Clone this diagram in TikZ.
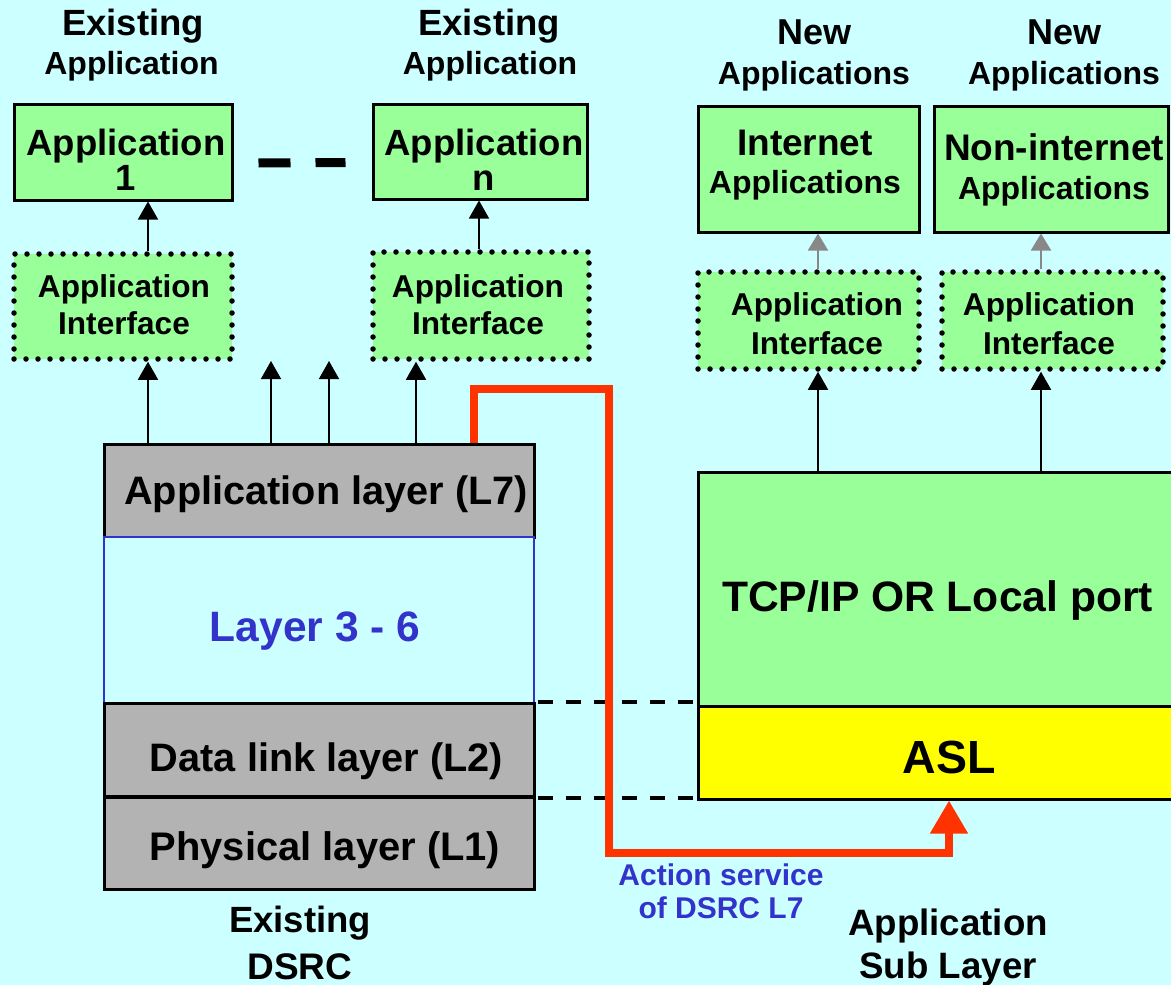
\documentclass[tikz,border=0pt]{standalone}
\usepackage{fontspec}
\setmainfont{Liberation Sans}
\usetikzlibrary{arrows.meta}
\definecolor{bgcyan}{HTML}{CCFFFF}
\definecolor{appgreen}{HTML}{99FF99}
\definecolor{layergray}{HTML}{B3B3B3}
\definecolor{aslyellow}{HTML}{FFFF00}
\definecolor{flowred}{HTML}{FF3300}
\definecolor{textblue}{HTML}{3333CC}
\definecolor{arrowgray}{HTML}{888888}
\newcommand\fsz[1]{\fontsize{#1}{#1}\selectfont\bfseries}
\begin{document}
\begin{tikzpicture}[x=1pt,y=-1pt,
  appbox/.style={draw, line width=3pt, fill=appgreen, inner sep=0pt},
  ifbox/.style={draw, line width=5.5pt, line cap=round, dash pattern=on 0pt off 12pt,
                fill=appgreen, inner sep=0pt},
  layerbox/.style={draw, line width=3pt, fill=layergray, inner sep=0pt},
  txt/.style={anchor=base, inner sep=0pt},
  uparrow/.style={line width=1.6pt, -{Triangle[length=18pt,width=20pt]}},
  greyarrow/.style={draw=arrowgray, line width=2pt, -{Triangle[length=17pt,width=20pt]}},
  dashline/.style={line width=4pt, dash pattern=on 15pt off 13pt, dash phase=-2pt},
  redpath/.style={draw=flowred, line width=7.5pt, line join=miter,
                  -{Triangle[length=33pt,width=36pt]}}]

\fill[bgcyan] (0,0) rectangle (1171,985);
\useasboundingbox (0,0) rectangle (1171,985);
\clip (0,0) rectangle (1171,985);

% ---- existing applications (left) ----
\node[txt, font=\fsz{36.5}] (ex1a) at (133,35) {Existing};
\node[txt, font=\fsz{32}]   (ex1b) at (131.5,74) {Application};
\node[txt, font=\fsz{36.5}] (ex2a) at (489,35) {Existing};
\node[txt, font=\fsz{32}]   (ex2b) at (490,74) {Application};

\node[appbox, minimum width=218pt, minimum height=96pt] (app1) at (123,152) {};
\node[txt, font=\fsz{36.5}] (app1a) at (126,155) {Application};
\node[txt, font=\fsz{36.5}] (app1b) at (126,190) {1};

\node[appbox, minimum width=214pt, minimum height=95pt] (appn) at (480,151.5) {};
\node[txt, font=\fsz{36.5}] (appna) at (484,155) {Application};
\node[txt, font=\fsz{36.5}] (appnb) at (484,190) {n};

\draw[line width=9pt, dash pattern=on 32pt off 25pt]
  ([xshift=25pt,yshift=-11pt]app1.east) -- ([xshift=-26pt,yshift=-11pt]appn.west);

\node[ifbox, minimum width=218pt, minimum height=105pt] (ai1) at (123,306.5) {};
\node[txt, font=\fsz{31.6}] (ai1a) at (124,297) {Application};
\node[txt, font=\fsz{31.6}] (ai1b) at (124,334) {Interface};

\node[ifbox, minimum width=216pt, minimum height=107pt] (ain) at (481,305.5) {};
\node[txt, font=\fsz{31.6}] (aina) at (478,297) {Application};
\node[txt, font=\fsz{31.6}] (ainb) at (478,334) {Interface};

% ---- new applications (right) ----
\node[txt, font=\fsz{36}] (new1a) at (814.5,45) {New};
\node[txt, font=\fsz{32}] (new1b) at (814,84) {Applications};
\node[txt, font=\fsz{36}] (new2a) at (1064.5,45) {New};
\node[txt, font=\fsz{32}] (new2b) at (1064,84) {Applications};

\node[appbox, minimum width=221pt, minimum height=126pt] (inet) at (808.5,169) {};
\node[txt, font=\fsz{37}] (ineta) at (805,155) {Internet};
\node[txt, font=\fsz{32}] (inetb) at (805,193) {Applications};

\node[appbox, minimum width=234pt, minimum height=126pt] (ninet) at (1051,169) {};
\node[txt, font=\fsz{37}] (nineta) at (1054,160) {Non-internet};
\node[txt, font=\fsz{32}] (ninetb) at (1054,199) {Applications};

\node[ifbox, minimum width=221pt, minimum height=97pt] (ai3) at (808.5,320.5) {};
\node[txt, font=\fsz{31.6}] (ai3a) at (817,315) {Application};
\node[txt, font=\fsz{31.6}] (ai3b) at (817,354) {Interface};

\node[ifbox, minimum width=221pt, minimum height=97pt] (ai4) at (1052.5,320.5) {};
\node[txt, font=\fsz{31.6}] (ai4a) at (1049,315) {Application};
\node[txt, font=\fsz{31.6}] (ai4b) at (1049,354) {Interface};

% ---- DSRC stack ----
\node[layerbox, minimum width=430pt, minimum height=93pt] (l7) at (319,490.5) {};
\node[txt, font=\fsz{39.7}] (l7t) at (326,504) {Application layer (L7)};

\node[draw=textblue, line width=1.5pt, fill=bgcyan, inner sep=0pt,
      minimum width=430pt, minimum height=166pt] (l36) at (319,620) {};
\node[txt, font=\fsz{42.5}, text=textblue] (l36t) at (315,641) {Layer 3 - 6};

\node[layerbox, minimum width=430pt, minimum height=93pt] (l2) at (319,750) {};
\node[txt, font=\fsz{39.7}] (l2t) at (326.5,771) {Data link layer (L2)};

\node[layerbox, minimum width=430pt, minimum height=92pt] (l1) at (319,843) {};
\node[txt, font=\fsz{39.9}] (l1t) at (325,860) {Physical layer (L1)};

\node[txt, font=\fsz{36.5}] (dsrca) at (300,932) {Existing};
\node[txt, font=\fsz{37}]   (dsrcb) at (300,979) {DSRC};

% ---- TCP/IP and ASL ----
\node[appbox, minimum width=492pt, minimum height=234pt] (tcp) at (944,589) {};
\node[txt, font=\fsz{42.6}] (tcpt) at (937.5,611) {TCP/IP OR Local port};

\node[draw, line width=3pt, fill=aslyellow, inner sep=0pt,
      minimum width=492pt, minimum height=93pt] (asl) at (944,752.5) {};
\node[txt, font=\fsz{46.5}] (aslt) at (949,773) {ASL};

\node[txt, font=\fsz{36.7}] (asla) at (948,935) {Application};
\node[txt, font=\fsz{36.7}] (aslb) at (948,978) {Sub Layer};

\node[txt, font=\fsz{30}, text=textblue] (acta) at (721,885) {Action service};
\node[txt, font=\fsz{30}, text=textblue] (actb) at (721,918) {of DSRC L7};

% ---- layer alignment guides ----
\draw[dashline] (l2.north east) -- (l2.north east -| asl.west);
\draw[dashline] (l2.south east) -- (l2.south east -| asl.west);

% ---- upward service arrows ----
\draw[uparrow] (l7.north -| 148,0) -- (ai1.south -| 148,0);
\coordinate (up2) at (271,361);
\coordinate (up3) at (329,361);
\draw[uparrow] (l7.north -| up2) -- (up2);
\draw[uparrow] (l7.north -| up3) -- (up3);
\draw[uparrow] (l7.north -| 416,0) -- (ain.south -| 416,0);
\draw[uparrow] (ai1.north -| 148,0) -- (app1.south -| 148,0);
\draw[uparrow] (ain.north -| 479,0) -- (appn.south -| 479,0);

\draw[uparrow] (tcp.north -| 818,0) -- (ai3.south -| 818,0);
\draw[uparrow] (tcp.north -| 1041,0) -- (ai4.south -| 1041,0);
\draw[greyarrow] (ai3.north -| 818,0) -- (inet.south -| 818,0);
\draw[greyarrow] (ai4.north -| 1041,0) -- (ninet.south -| 1041,0);

% ---- action service path from L7 to ASL ----
\coordinate (rtop) at (474,389);
\coordinate (rlow) at (609,853);
\coordinate (rend) at (949,853);
\draw[redpath] (l7.north -| rtop) -- (rtop) -- (rtop -| rlow) -- (rlow) -- (rend)
  -- (asl.south -| rend);
\end{tikzpicture}
\end{document}
